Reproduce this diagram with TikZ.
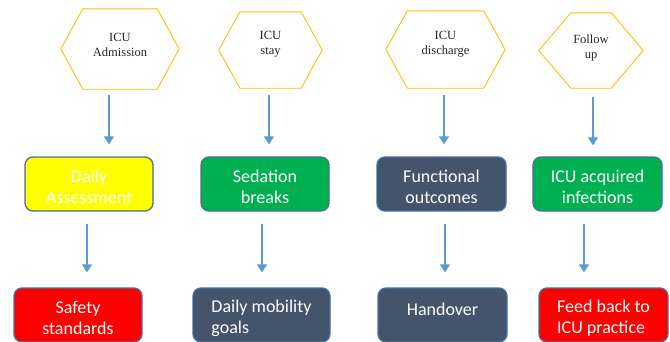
\documentclass[tikz,border=0pt]{standalone}
\usepackage{fontspec}
\setmainfont{Liberation Serif}
\newfontfamily\boxfont{Carlito}
\usetikzlibrary{arrows.meta}
\definecolor{hexgold}{HTML}{FFC000}
\definecolor{arrblue}{HTML}{5B9BD5}
\definecolor{boxedge}{HTML}{41719C}
\definecolor{slate}{HTML}{44546A}
\definecolor{okgreen}{HTML}{00B050}
\definecolor{alarmred}{HTML}{FF0000}
\definecolor{hiyellow}{HTML}{FFFF00}
% hexagon outline around an (invisible) node: #1 name, #2 horizontal run of the slanted sides
\newcommand\hexoutline[2]{%
  \draw[hexline] (#1.west) -- ([xshift=#2]#1.north west) -- ([xshift=-#2]#1.north east)
    -- (#1.east) -- ([xshift=-#2]#1.south east) -- ([xshift=#2]#1.south west) -- cycle;}
\tikzset{
  hexline/.style={draw=hexgold, line width=0.9pt, line join=miter},
  hexnode/.style={inner sep=0pt, text=black!85, align=center,
    font=\fontsize{12.5}{15}\selectfont},
  stagebox/.style={draw=boxedge, line width=1.3pt, rounded corners=8pt,
    minimum width=128pt, minimum height=54pt, inner sep=0pt},
  boxtext/.style={inner sep=0pt, text=white, align=center,
    font=\boxfont\fontsize{18}{21}\selectfont},
  arr/.style={draw=arrblue, line width=1.3pt, -{Triangle[width=10pt,length=8pt]}}
}
\begin{document}
\begin{tikzpicture}[x=1pt,y=-1pt]
\useasboundingbox (0,0) rectangle (670,341);
\begin{scope}
\clip (0,0) rectangle (670,341);

% stage hexagons
\node[hexnode, minimum width=118pt, minimum height=80pt] (h1) at (120,49) {};
\node[hexnode, minimum width=103pt, minimum height=76pt] (h2) at (270.5,50) {};
\node[hexnode, minimum width=119pt, minimum height=77pt] (h3) at (445.5,49.5) {};
\node[hexnode, minimum width=104pt, minimum height=75pt] (h4) at (591,50.5) {};
\hexoutline{h1}{22pt}
\hexoutline{h2}{21pt}
\hexoutline{h3}{21.5pt}
\hexoutline{h4}{32pt}
\node[hexnode] (t1) at (120,44.5) {ICU\\Admission};
\node[hexnode] (t2) at (270.5,44.5) {ICU\\stay};
\node[hexnode] (t3) at (445.5,44.5) {ICU\\discharge};
\node[hexnode] (t4) at (591,47.5) {Follow\\up};

% first row of boxes
\node[stagebox, fill=hiyellow] (b1) at (89,184) {};
\node[stagebox, fill=okgreen] (b2) at (265,184) {};
\node[stagebox, fill=slate, minimum width=129pt] (b3) at (441.5,184) {};
\node[stagebox, fill=okgreen, minimum width=129pt] (b4) at (597.5,184) {};
\node[boxtext] (b1t) at (89,187) {Daily\\Assessment};
\node[boxtext] (b2t) at (265,187) {Sedation\\breaks};
\node[boxtext] (b3t) at (441.5,187) {Functional\\outcomes};
\node[boxtext] (b4t) at (597.5,187) {ICU acquired\\infections};

% second row of boxes
\node[stagebox, fill=alarmred] (c1) at (78,315) {};
\node[stagebox, fill=slate, minimum width=137pt] (c2) at (261.5,315) {};
\node[stagebox, fill=slate, minimum width=129pt] (c3) at (442.5,315) {};
\node[stagebox, fill=alarmred, minimum width=129pt] (c4) at (603.5,315) {};
\node[boxtext] (c1t) at (78,318) {Safety\\standards};
\node[boxtext, align=left] (c2t) at (261.5,318.5) {Daily mobility\\goals};
\node[boxtext] (c3t) at (442.5,309.5) {Handover};
\node[boxtext, align=left] (c4t) at (603.5,318.5) {Feed back to\\ICU practice};

% hexagon -> first row
\draw[arr, shorten <=6pt, shorten >=12pt] (h1.south -| 109,0) -- (b1.north -| 109,0);
\draw[arr, shorten <=7pt, shorten >=12pt] (h2.south -| 269,0) -- (b2.north -| 269,0);
\draw[arr, shorten <=7pt, shorten >=12pt] (h3.south -| 444,0) -- (b3.north -| 444,0);
\draw[arr, shorten <=9pt, shorten >=11pt] (h4.south -| 593,0) -- (b4.north -| 593,0);

% first row -> second row
\draw[arr, shorten <=12pt, shorten >=15pt] (b1.south -| 87,0) -- (c1.north -| 87,0);
\draw[arr, shorten <=12pt, shorten >=15pt] (b2.south -| 262,0) -- (c2.north -| 262,0);
\draw[arr, shorten <=12pt, shorten >=15pt] (b3.south -| 445,0) -- (c3.north -| 445,0);
\draw[arr, shorten <=12pt, shorten >=15pt] (b4.south -| 584,0) -- (c4.north -| 584,0);
\end{scope}
\end{tikzpicture}
\end{document}
